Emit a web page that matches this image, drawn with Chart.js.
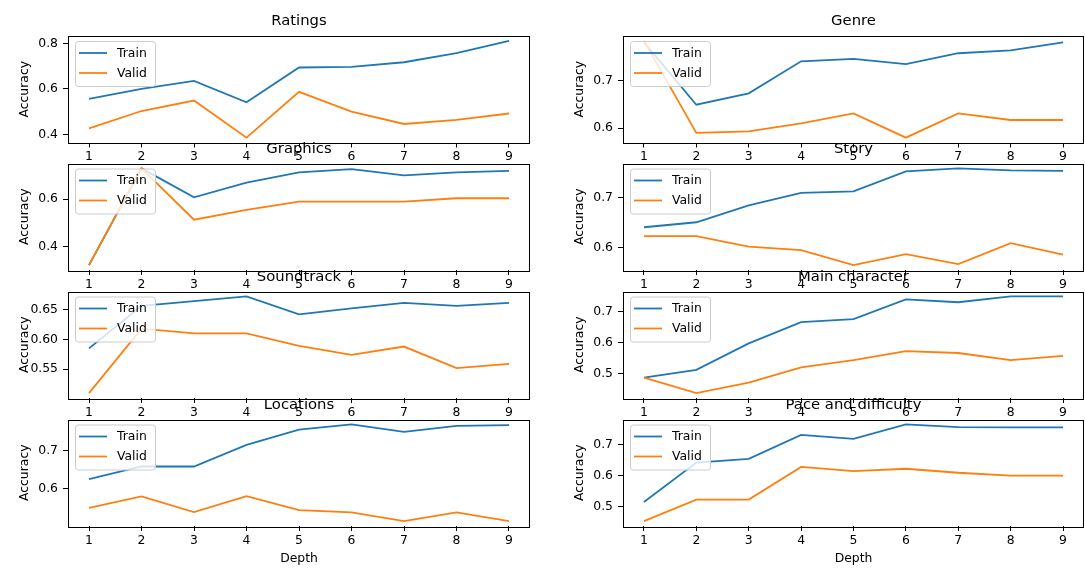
<!DOCTYPE html>
<html>
<head>
<meta charset="utf-8">
<script src="https://cdn.jsdelivr.net/npm/chart.js@4.4.1/dist/chart.umd.min.js"></script>
<style>
  html, body { margin: 0; padding: 0; background: #fff; }
  #wrap { position: relative; width: 1085px; height: 568px; }
  #wrap canvas { position: absolute; left: 0; top: 0; }
</style>
</head>
<body>
<div id="wrap"></div>
<script>
// depth values on the x axis
const depth = [1, 2, 3, 4, 5, 6, 7, 8, 9];
const seriesNames = ["Train", "Valid"];

const trainRatings = [0.556, 0.600, 0.635, 0.541, 0.694, 0.697, 0.717, 0.757, 0.811];
const validRatings = [0.427, 0.503, 0.549, 0.386, 0.587, 0.500, 0.446, 0.464, 0.492];
const ticksRatings = [0.4, 0.6, 0.8];

const trainGenre = [0.780, 0.649, 0.673, 0.740, 0.745, 0.734, 0.757, 0.763, 0.780];
const validGenre = [0.783, 0.590, 0.593, 0.610, 0.631, 0.580, 0.631, 0.617, 0.617];
const ticksGenre = [0.6, 0.7];

const trainGraphics = [0.320, 0.731, 0.608, 0.670, 0.714, 0.728, 0.701, 0.714, 0.720];
const validGraphics = [0.320, 0.731, 0.513, 0.555, 0.590, 0.590, 0.590, 0.604, 0.604];
const ticksGraphics = [0.4, 0.6];

const trainStory = [0.641, 0.651, 0.685, 0.710, 0.713, 0.753, 0.759, 0.755, 0.754];
const validStory = [0.623, 0.623, 0.602, 0.595, 0.565, 0.587, 0.567, 0.609, 0.586];
const ticksStory = [0.6, 0.7];

const trainSoundtrack = [0.585, 0.656, 0.664, 0.672, 0.642, 0.652, 0.661, 0.656, 0.661];
const validSoundtrack = [0.510, 0.618, 0.610, 0.610, 0.589, 0.574, 0.588, 0.552, 0.559];
const ticksSoundtrack = [0.55, 0.60, 0.65];

const trainMainChar = [0.488, 0.513, 0.598, 0.666, 0.676, 0.739, 0.730, 0.749, 0.749];
const validMainChar = [0.488, 0.438, 0.472, 0.521, 0.544, 0.573, 0.567, 0.544, 0.558];
const ticksMainChar = [0.5, 0.6, 0.7];

const trainLocations = [0.626, 0.659, 0.659, 0.716, 0.756, 0.770, 0.750, 0.766, 0.768];
const validLocations = [0.550, 0.580, 0.539, 0.581, 0.544, 0.538, 0.515, 0.538, 0.515];
const ticksLocations = [0.6, 0.7];

const trainPace = [0.515, 0.643, 0.655, 0.733, 0.720, 0.767, 0.758, 0.757, 0.757];
const validPace = [0.453, 0.523, 0.523, 0.629, 0.615, 0.623, 0.610, 0.601, 0.601];
const ticksPace = [0.5, 0.6, 0.7];

const panels = [
  { title: "Ratings", train: trainRatings, valid: validRatings, ticks: ticksRatings, dec: 1 },
  { title: "Genre", train: trainGenre, valid: validGenre, ticks: ticksGenre, dec: 1 },
  { title: "Graphics", train: trainGraphics, valid: validGraphics, ticks: ticksGraphics, dec: 1 },
  { title: "Story", train: trainStory, valid: validStory, ticks: ticksStory, dec: 1 },
  { title: "Soundtrack", train: trainSoundtrack, valid: validSoundtrack, ticks: ticksSoundtrack, dec: 2 },
  { title: "Main character", train: trainMainChar, valid: validMainChar, ticks: ticksMainChar, dec: 1 },
  { title: "Locations", train: trainLocations, valid: validLocations, ticks: ticksLocations, dec: 1 },
  { title: "Pace and difficulty", train: trainPace, valid: validPace, ticks: ticksPace, dec: 1 }
];

// layout (pixels)
const W = 1085, H = 568;
const colX = [[68, 530], [623, 1084]];
const rowY = [[36, 142.5], [163.5, 270], [291.5, 398], [419.5, 526]];
const yW = 55, xH = 44;
const FONT = "'DejaVu Sans', sans-serif";
const blue = "#1f77b4", orange = "#ff7f0e";

const framePlugin = {
  id: "frame",
  afterDatasetsDraw(chart, args, opts) {
    const { ctx, chartArea: a } = chart;
    ctx.save();
    ctx.strokeStyle = "#000";
    ctx.lineWidth = 1;
    ctx.strokeRect(Math.round(a.left) + 0.5, Math.round(a.top) + 0.5,
      Math.round(a.right - a.left) - 1, Math.round(a.bottom - a.top));

    // title
    ctx.fillStyle = "#000";
    ctx.font = "14.8px " + FONT;
    ctx.textAlign = "center";
    ctx.textBaseline = "alphabetic";
    ctx.fillText(opts.title, (a.left + a.right) / 2, a.top - 11);

    // legend box, upper left
    const bx = a.left + 7, by = a.top + 5, bw = 80, bh = 45, r = 3;
    ctx.beginPath();
    ctx.roundRect(bx + 0.5, by + 0.5, bw, bh, r);
    ctx.fillStyle = "rgba(255,255,255,0.8)";
    ctx.fill();
    ctx.strokeStyle = "#cccccc";
    ctx.stroke();
    const cols = [blue, orange];
    ctx.font = "12.4px " + FONT;
    ctx.textAlign = "left";
    ctx.textBaseline = "middle";
    seriesNames.forEach((name, i) => {
      const y = by + 12 + i * 20;
      ctx.beginPath();
      ctx.moveTo(bx + 4, y);
      ctx.lineTo(bx + 32, y);
      ctx.strokeStyle = cols[i];
      ctx.lineWidth = 1.8;
      ctx.stroke();
      ctx.fillStyle = "#000";
      ctx.fillText(name, bx + 42, y + 0.5);
    });
    ctx.restore();
  }
};

const wrap = document.getElementById("wrap");

panels.forEach((p, idx) => {
  const col = idx % 2, row = Math.floor(idx / 2);
  const [L, R] = colX[col];
  const [T, B] = rowY[row];

  const all = p.train.concat(p.valid);
  const lo = Math.min(...all), hi = Math.max(...all);
  const m = (hi - lo) * 0.05;

  const canvas = document.createElement("canvas");
  canvas.width = W;
  canvas.height = H;
  wrap.appendChild(canvas);

  new Chart(canvas.getContext("2d"), {
    type: "line",
    data: {
      datasets: [
        { label: seriesNames[0], data: depth.map((d, i) => ({ x: d, y: p.train[i] })),
          borderColor: blue, borderWidth: 1.8, pointRadius: 0, tension: 0, order: 1 },
        { label: seriesNames[1], data: depth.map((d, i) => ({ x: d, y: p.valid[i] })),
          borderColor: orange, borderWidth: 1.8, pointRadius: 0, tension: 0, order: 0 }
      ]
    },
    options: {
      responsive: false,
      animation: false,
      events: [],
      layout: { padding: { left: L - yW, top: T, right: W - R, bottom: H - B - xH } },
      plugins: {
        legend: { display: false },
        tooltip: { enabled: false },
        frame: { title: p.title }
      },
      scales: {
        x: {
          type: "linear",
          min: 0.6, max: 9.4,
          afterBuildTicks: s => { s.ticks = depth.map(v => ({ value: v })); },
          afterFit: s => { s.height = xH; },
          grid: { drawOnChartArea: false, drawTicks: true, tickLength: 5, color: "#000" },
          border: { display: false },
          ticks: { color: "#000", padding: 2, maxRotation: 0, autoSkip: false,
            font: { family: FONT, size: 12.4 }, callback: v => String(v) },
          title: { display: row === 3, text: "Depth", color: "#000",
            font: { family: FONT, size: 12.4 }, padding: { top: 4, bottom: 4 } }
        },
        y: {
          min: lo - m, max: hi + m,
          afterBuildTicks: s => { s.ticks = p.ticks.map(v => ({ value: v })); },
          afterFit: s => { s.width = yW; },
          grid: { drawOnChartArea: false, drawTicks: true, tickLength: 5, color: "#000" },
          border: { display: false },
          ticks: { color: "#000", padding: 5,
            font: { family: FONT, size: 12.4 }, callback: v => v.toFixed(p.dec) },
          title: { display: true, text: "Accuracy", color: "#000",
            font: { family: FONT, size: 12.4 }, padding: { top: 4, bottom: 4 } }
        }
      }
    },
    plugins: [framePlugin]
  });
});
</script>
</body>
</html>
